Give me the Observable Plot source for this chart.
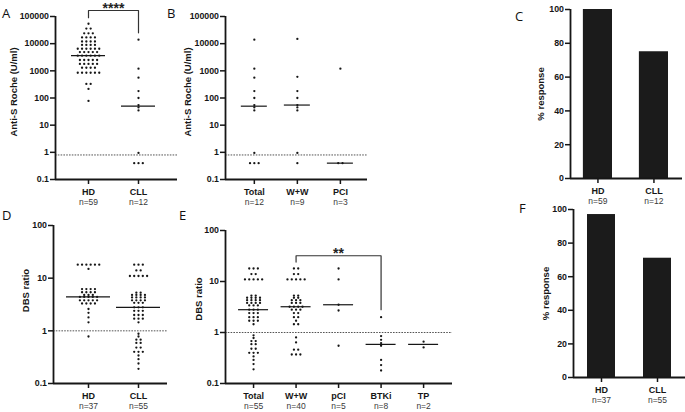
<!DOCTYPE html>
<html><head><meta charset="utf-8">
<script src="https://cdn.jsdelivr.net/npm/d3@7"></script>
<script src="https://cdn.jsdelivr.net/npm/@observablehq/plot@0.6"></script>
<style>
body{margin:0;background:#fff;}
#fig{position:relative;width:685px;height:412px;overflow:hidden;background:#fff;}
.panel{position:absolute;}
.letter{position:absolute;font-family:"Open Sans","Noto Sans",sans-serif;font-size:13px;line-height:13px;color:#111;}
</style></head><body><div id="fig"></div>
<script>
// ---------- DATA ----------
// Panel A: Anti-S Roche (U/ml)
const catsA = ["HD", "CLL"];
const nA = ["n=59", "n=12"];
const antiS_HD = [54000, 36000, 36000, 24000, 24000, 24000, 17000, 17000, 17000, 17000,
  12000, 12000, 12000, 12000, 9000, 9000, 9000, 9000,
  6500, 6500, 6500, 6500, 6500, 6500, 4900, 4900, 4900, 4900, 4900,
  3600, 3600, 3600, 3600, 3600, 3600, 2500, 2500, 2500, 2500, 2500,
  1800, 1800, 1800, 1800, 1800, 1300, 1300, 1300, 1300,
  850, 850, 850, 850, 850, 850, 330, 330, 215, 78];
const antiS_CLL = [14000, 1200, 560, 180, 100, 55, 45, 35, 0.95, 0.4, 0.4, 0.4];
// Panel B: CLL by treatment
const catsB = ["Total", "W+W", "PCI"];
const nB = ["n=12", "n=9", "n=3"];
const antiS_WW = [15000, 600, 180, 100, 55, 45, 35, 0.95, 0.4];
const antiS_PCI = [1200, 0.4, 0.4];
const antiSTicks = [0.1, 1, 10, 100, 1000, 10000, 100000];
const antiSCutoff = 0.8;
// Panel C: % response (Anti-S)
const catsC = ["HD", "CLL"];
const nC = ["n=59", "n=12"];
const respC = [100, 75];
// Panel D: DBS ratio
const catsD = ["HD", "CLL"];
const nD = ["n=37", "n=55"];
const dbs_HD = [18, 18, 18, 18, 18, 18, 15, 6.2, 6.2, 6.2, 6.2, 5.4, 5.4, 5.4, 5.4,
  4.8, 4.8, 4.8, 4.4, 4.4, 4.4, 4.4, 4.4, 3.8, 3.8, 3.8, 3.8, 3.8,
  3.3, 3.3, 3.3, 3.3, 2.6, 2.2, 1.8, 1.45, 0.78];
const dbs_CLL = [18, 18, 18, 14, 14, 11, 11, 11, 11, 11,
  5.3, 5.3, 4.8, 4.8, 4.8, 4.8, 4.3, 4.3, 4.3, 4.3, 3.8, 3.8, 3.8, 3.8, 3.4, 3.4, 3.4,
  2.8, 2.8, 2.8, 2.4, 2.4, 2.4, 2.0, 2.0, 2.0, 1.7, 1.7, 1.7, 1.45,
  0.88, 0.78, 0.68, 0.68, 0.59, 0.59, 0.48, 0.48, 0.4, 0.4, 0.4, 0.34, 0.29, 0.24, 0.19];
// Panel E: DBS ratio by treatment
const catsE = ["Total", "W+W", "pCI", "BTKi", "TP"];
const nE = ["n=55", "n=40", "n=5", "n=8", "n=2"];
const dbs_WW = [18, 18, 14, 14, 11, 11, 11, 11, 11,
  5.3, 5.3, 4.8, 4.8, 4.3, 4.3, 4.3, 3.8, 3.8, 3.8, 3.2, 3.2, 3.2, 3.2,
  2.8, 2.8, 2.8, 2.4, 2.4, 2.0, 2.0, 1.7, 1.45, 1.45,
  0.8, 0.64, 0.46, 0.46, 0.37, 0.37, 0.37];
const dbs_pCI = [18, 11, 3.5, 2.7, 0.55];
const dbs_BTKi = [2.0, 0.85, 0.72, 0.62, 0.55, 0.29, 0.23, 0.18];
const dbs_TP = [0.66, 0.51];
const dbsTicks = [0.1, 1, 10, 100];
const dbsCutoff = 1;
// Panel F: % response (DBS)
const catsF = ["HD", "CLL"];
const nF = ["n=37", "n=55"];
const respF = [97, 71];
const pctTicks = [0, 20, 40, 60, 80, 100];
// significance annotations (group indices, y values in data units)
const sigA = {from: 0, to: 1, top: 166000, leftEnd: 90000, rightEnd: 25000, labelY: 200000, label: "****"};
const sigE = {from: 1, to: 3, top: 32, leftEnd: 24, rightEnd: 2.8, labelY: 36, label: "**"};

// ---------- HELPERS ----------
const FONT = '"Liberation Sans", Arial, sans-serif';
const INK = "#161616";
const spacingPx = 4.3;

function swarm(groups, stepPx) {
  const s = spacingPx / stepPx, out = [];
  groups.forEach((vals, g) => {
    const counts = d3.rollup(vals, v => v.length, d => d);
    const seen = new Map();
    for (const v of vals) {
      const k = counts.get(v), j = seen.get(v) || 0;
      seen.set(v, j + 1);
      out.push({g, v, off: (j - (k - 1) / 2) * s});
    }
  });
  return out;
}

function commonAxes(cfg, xTicks) {
  return [
    Plot.axisY({ticks: cfg.yTicks, tickFormat: d => String(d), tickSize: 5, tickPadding: 1.5,
      fontWeight: "bold", fontSize: 8.8, strokeWidth: 1.5, stroke: INK, fill: INK, label: null}),
    Plot.axisX({ticks: xTicks, tickFormat: i => cfg.cats[i], tickSize: 5, tickPadding: 4,
      fontWeight: "bold", fontSize: 9, strokeWidth: 1.5, stroke: INK, fill: INK, label: null}),
    Plot.axisX({ticks: xTicks, tickFormat: i => cfg.ns[i], tickSize: 0, tickPadding: cfg.nPad,
      fontSize: 8.5, fill: "#3a3a3a", label: null}),
    Plot.ruleX([cfg.xDomain[0]], {stroke: INK, strokeWidth: 1.8}),
    Plot.ruleY([cfg.yDomain[0]], {stroke: INK, strokeWidth: 1.8}),
    Plot.text([cfg.ylabel], {text: d => d, frameAnchor: "left", rotate: -90, dx: cfg.labelDx, dy: cfg.labelDy,
      textAnchor: "middle", lineAnchor: "middle", fontWeight: "bold", fontSize: 9.5, fill: INK})
  ];
}

function dotPanel(cfg) {
  const pts = swarm(cfg.groups, cfg.step);
  const meds = cfg.groups.map((vals, g) => ({g, m: d3.median(vals)}));
  const h = cfg.medHalfPx / cfg.step;
  const xTicks = d3.range(cfg.cats.length);
  const marks = [
    Plot.ruleY([cfg.cutoff], {stroke: "#555", strokeWidth: 1, strokeDasharray: "1.6,1.2"}),
    Plot.dot(pts, {x: d => d.g + d.off, y: "v", r: 1.15, fill: INK, stroke: null}),
    Plot.ruleY(meds, {y: "m", x1: d => d.g - h, x2: d => d.g + h, stroke: INK, strokeWidth: 1.2}),
    ...commonAxes(cfg, xTicks)
  ];
  if (cfg.sig) {
    const s = cfg.sig;
    const br = [{x: s.from, y: s.leftEnd}, {x: s.from, y: s.top}, {x: s.to, y: s.top}, {x: s.to, y: s.rightEnd}];
    marks.push(Plot.line(br, {x: "x", y: "y", stroke: "#333", strokeWidth: 1.2}));
    marks.push(Plot.text([s], {x: d => (d.from + d.to) / 2, y: "labelY", text: "label",
      fontSize: 14, fontWeight: "bold", fill: "#222", lineAnchor: "middle"}));
  }
  return Plot.plot({
    width: cfg.width, height: cfg.height,
    marginLeft: cfg.m[0], marginRight: cfg.m[1], marginTop: cfg.m[2], marginBottom: cfg.m[3],
    x: {domain: cfg.xDomain},
    y: {type: "log", domain: cfg.yDomain},
    style: {fontFamily: FONT, background: "transparent", color: INK, overflow: "visible"},
    marks
  });
}

function barPanel(cfg) {
  const data = cfg.values.map((v, g) => ({g, v}));
  const xTicks = d3.range(cfg.cats.length);
  return Plot.plot({
    width: cfg.width, height: cfg.height,
    marginLeft: cfg.m[0], marginRight: cfg.m[1], marginTop: cfg.m[2], marginBottom: cfg.m[3],
    x: {domain: cfg.xDomain},
    y: {domain: cfg.yDomain},
    style: {fontFamily: FONT, background: "transparent", color: INK, overflow: "visible"},
    marks: [
      Plot.rectY(data, {x1: d => d.g - cfg.half, x2: d => d.g + cfg.half, y: "v", fill: "#1b1b1b"}),
      ...commonAxes(cfg, xTicks)
    ]
  });
}

function place(el, left, top) {
  const d = document.createElement("div");
  d.className = "panel"; d.style.left = left + "px"; d.style.top = top + "px";
  d.appendChild(el); document.getElementById("fig").appendChild(d);
}
function letter(t, left, top) {
  const d = document.createElement("div");
  d.className = "letter"; d.textContent = t; d.style.left = left + "px"; d.style.top = top + "px";
  document.getElementById("fig").appendChild(d);
}

// ---------- PANELS ----------
place(dotPanel({cats: catsA, ns: nA, groups: [antiS_HD, antiS_CLL], step: 50,
  xDomain: [-0.66, 1.78], yDomain: [0.1, 100000], yTicks: antiSTicks, cutoff: antiSCutoff,
  medHalfPx: 17, ylabel: "Anti-S Roche (U/ml)", labelDx: -42, labelDy: -6, nPad: 19, sig: sigA,
  width: 180, height: 210, m: [55, 3, 16, 31]}), 0, 0);

place(dotPanel({cats: catsB, ns: nB, groups: [antiS_CLL, antiS_WW, antiS_PCI], step: 43,
  xDomain: [-0.67, 2.63], yDomain: [0.1, 100000], yTicks: antiSTicks, cutoff: antiSCutoff,
  medHalfPx: 13, ylabel: "Anti-S Roche (U/ml)", labelDx: -38, labelDy: -6, nPad: 19,
  width: 200, height: 210, m: [55, 3, 16, 31]}), 170, 0);

place(barPanel({cats: catsC, ns: nC, values: respC, half: 0.26,
  xDomain: [-0.49, 1.51], yDomain: [0, 100], yTicks: pctTicks,
  ylabel: "% response", labelDx: -30, labelDy: 0, nPad: 19,
  width: 205, height: 210, m: [90, 3, 9, 32]}), 480, 0);

place(dotPanel({cats: catsD, ns: nD, groups: [dbs_HD, dbs_CLL], step: 50,
  xDomain: [-0.7, 1.58], yDomain: [0.1, 100], yTicks: dbsTicks, cutoff: dbsCutoff,
  medHalfPx: 22, ylabel: "DBS ratio", labelDx: -28, labelDy: -14, nPad: 19,
  width: 180, height: 212, m: [53, 13, 25, 29]}), 0, 200);

place(dotPanel({cats: catsE, ns: nE, groups: [dbs_CLL, dbs_WW, dbs_pCI, dbs_BTKi, dbs_TP], step: 42.5,
  xDomain: [-0.66, 4.68], yDomain: [0.1, 100], yTicks: dbsTicks, cutoff: dbsCutoff,
  medHalfPx: 15, ylabel: "DBS ratio", labelDx: -27, labelDy: -8, nPad: 19, sig: sigE,
  width: 290, height: 212, m: [55, 8, 30, 29]}), 170, 200);

place(barPanel({cats: catsF, ns: nF, values: respF, half: 0.25,
  xDomain: [-0.5, 1.5], yDomain: [0, 100], yTicks: pctTicks,
  ylabel: "% response", labelDx: -28, labelDy: 0, nPad: 19,
  width: 205, height: 212, m: [93, 0, 9, 35]}), 480, 200);

letter("A", 2, 7);
letter("B", 167, 7);
letter("C", 515, 10);
letter("D", 2, 209);
letter("E", 179, 209);
letter("F", 519, 202);
</script></body></html>
